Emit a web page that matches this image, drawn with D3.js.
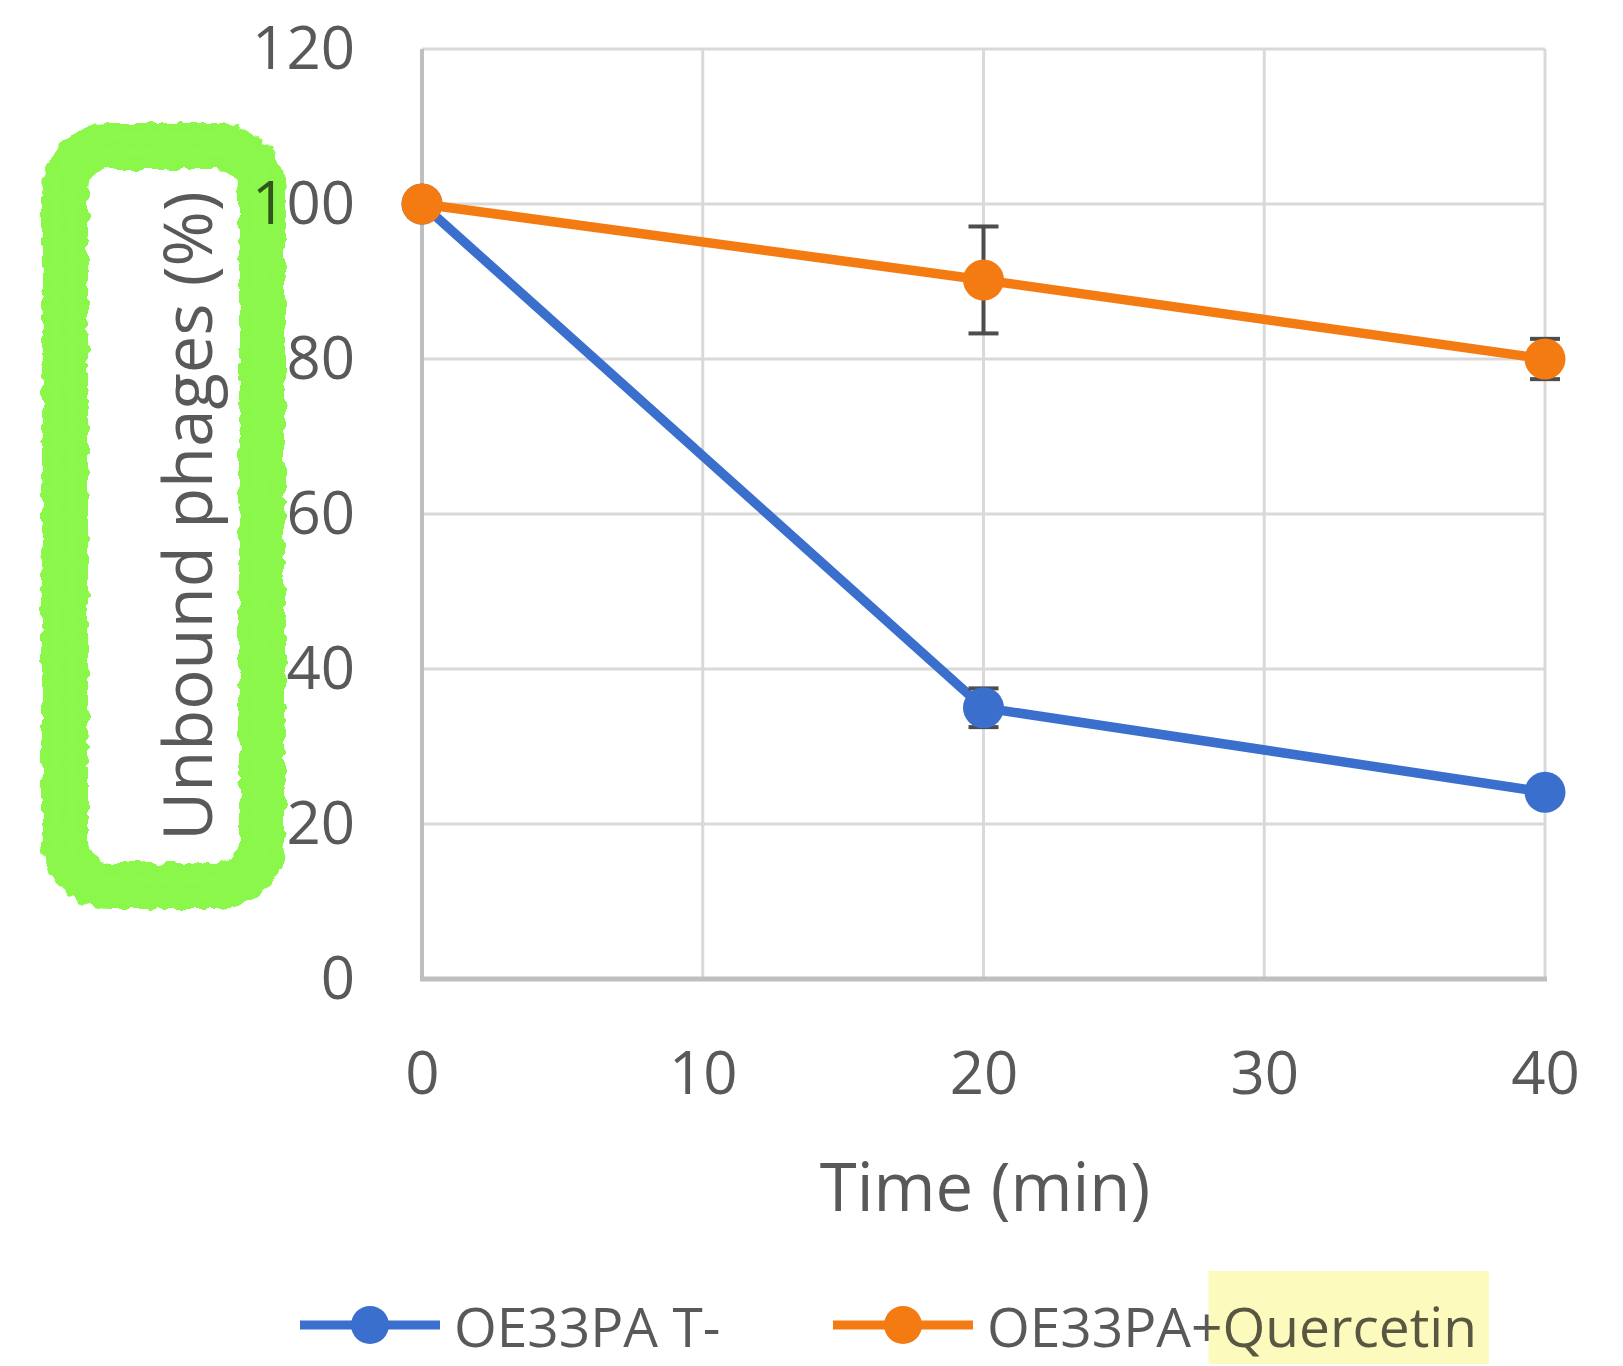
<!DOCTYPE html>
<html>
<head>
<meta charset="utf-8">
<script src="https://cdn.jsdelivr.net/npm/d3@7"></script>
<style>
  body { margin: 0; background: #ffffff; }
  svg text { font-family: "Open Sans", "Noto Sans", sans-serif; fill: #595959; }
</style>
</head>
<body>
<div id="chart"></div>
<script>
// chart data
var times = [0, 20, 40];
var xTicks = [0, 10, 20, 30, 40];
var yTicks = [0, 20, 40, 60, 80, 100, 120];
var seriesNames = ["OE33PA T-", "OE33PA+Quercetin"];
var seriesColors = ["#3b6fce", "#f47a12"];
var controlVals = [100, 35.0, 24.1];
var controlErr = [0, 2.5, 0];
var quercetinVals = [100, 90.2, 80.0];
var quercetinErr = [0, 6.9, 2.6];

var xTitle = "Time (min)";
var yTitle = "Unbound phages (%)";

var W = 1623, H = 1366;
var margin = {top: 49, right: 78, bottom: 387, left: 422},
    width = W - margin.left - margin.right,
    height = H - margin.top - margin.bottom;

var svg = d3.select("#chart").append("svg")
    .attr("width", W)
    .attr("height", H);

// rough edge for the hand-drawn marker box
var defs = svg.append("defs");
var rough = defs.append("filter").attr("id", "rough")
  .attr("x", "-20%").attr("y", "-10%").attr("width", "140%").attr("height", "120%");
rough.append("feTurbulence")
  .attr("type", "fractalNoise")
  .attr("baseFrequency", "0.09")
  .attr("numOctaves", 2)
  .attr("seed", 4)
  .attr("result", "noise");
rough.append("feDisplacementMap")
  .attr("in", "SourceGraphic")
  .attr("in2", "noise")
  .attr("scale", 10)
  .attr("xChannelSelector", "R")
  .attr("yChannelSelector", "G");

var g = svg.append("g")
    .attr("transform", "translate(" + margin.left + "," + margin.top + ")");

var xScale = d3.scaleLinear().domain([0, 40]).range([0, width]);
var yScale = d3.scaleLinear().domain([0, 120]).range([height, 0]);

// grid
g.append("g").selectAll("line")
  .data(yTicks.slice(1)).enter()
  .append("line")
  .attr("x1", 0).attr("x2", width)
  .attr("y1", function(d) { return yScale(d); })
  .attr("y2", function(d) { return yScale(d); })
  .style("stroke", "#d9d9d9")
  .style("stroke-width", 3);

g.append("g").selectAll("line")
  .data(xTicks.slice(1)).enter()
  .append("line")
  .attr("x1", function(d) { return xScale(d); })
  .attr("x2", function(d) { return xScale(d); })
  .attr("y1", 0).attr("y2", height)
  .style("stroke", "#d9d9d9")
  .style("stroke-width", 3);

// left and bottom axis lines
g.append("line")
  .attr("x1", 0).attr("x2", 0).attr("y1", 0).attr("y2", height)
  .style("stroke", "#bfbfbf").style("stroke-width", 4);
g.append("line")
  .attr("x1", -2).attr("x2", width + 2).attr("y1", height).attr("y2", height)
  .style("stroke", "#bfbfbf").style("stroke-width", 5);

// tick labels
var yAxis = d3.axisLeft(yScale).tickValues(yTicks).tickSize(0).tickPadding(67);
g.append("g").call(yAxis)
  .call(function(a) { a.select(".domain").remove(); })
  .selectAll("text")
  .style("font-size", "60px")
  .attr("fill", "#595959");

var xAxis = d3.axisBottom(xScale).tickValues(xTicks).tickSize(0).tickPadding(92);
g.append("g")
  .attr("transform", "translate(0," + height + ")")
  .call(xAxis)
  .call(function(a) { a.select(".domain").remove(); })
  .selectAll("text")
  .style("font-size", "60px")
  .attr("dy", "0")
  .attr("dominant-baseline", "central")
  .attr("fill", "#595959");

// axis titles
svg.append("text")
  .attr("x", 985).attr("y", 1185)
  .attr("text-anchor", "middle")
  .attr("dominant-baseline", "central")
  .style("font-size", "67px")
  .text(xTitle);

svg.append("text")
  .attr("transform", "translate(186,516) rotate(-90)")
  .attr("text-anchor", "middle")
  .attr("dominant-baseline", "central")
  .style("font-size", "67px")
  .text(yTitle);

// series
var series = [
  {name: seriesNames[0], color: seriesColors[0], vals: controlVals, err: controlErr},
  {name: seriesNames[1], color: seriesColors[1], vals: quercetinVals, err: quercetinErr}
];

var line = d3.line()
  .x(function(d) { return xScale(d.x); })
  .y(function(d) { return yScale(d.y); });

series.forEach(function(s) {
  var pts = times.map(function(t, i) { return {x: t, y: s.vals[i], e: s.err[i]}; });

  g.append("path")
    .attr("d", line(pts))
    .style("fill", "none")
    .style("stroke", s.color)
    .style("stroke-width", 9.5)
    .style("stroke-linejoin", "round");

  // error bars sit behind the markers
  var eb = g.append("g").selectAll("g")
    .data(pts.filter(function(d) { return d.e > 0; })).enter()
    .append("g")
    .style("stroke", "#4d4d4d")
    .style("stroke-width", 4);
  eb.append("line")
    .attr("x1", function(d) { return xScale(d.x); })
    .attr("x2", function(d) { return xScale(d.x); })
    .attr("y1", function(d) { return yScale(d.y + d.e); })
    .attr("y2", function(d) { return yScale(d.y - d.e); });
  eb.append("line")
    .attr("x1", function(d) { return xScale(d.x) - 15; })
    .attr("x2", function(d) { return xScale(d.x) + 15; })
    .attr("y1", function(d) { return yScale(d.y + d.e); })
    .attr("y2", function(d) { return yScale(d.y + d.e); });
  eb.append("line")
    .attr("x1", function(d) { return xScale(d.x) - 15; })
    .attr("x2", function(d) { return xScale(d.x) + 15; })
    .attr("y1", function(d) { return yScale(d.y - d.e); })
    .attr("y2", function(d) { return yScale(d.y - d.e); });

  g.append("g").selectAll("circle")
    .data(pts).enter()
    .append("circle")
    .attr("cx", function(d) { return xScale(d.x); })
    .attr("cy", function(d) { return yScale(d.y); })
    .attr("r", 20.5)
    .style("fill", s.color);
});

// legend
var legendX = [300, 833];
var legendY = 1325;
series.forEach(function(s, i) {
  var lg = svg.append("g").attr("transform", "translate(" + legendX[i] + "," + legendY + ")");
  lg.append("line")
    .attr("x1", 0).attr("x2", 140).attr("y1", 0).attr("y2", 0)
    .style("stroke", s.color).style("stroke-width", 9);
  lg.append("circle").attr("cx", 70).attr("cy", 0).attr("r", 19).style("fill", s.color);
  var t = lg.append("text")
    .attr("x", 154).attr("y", 0)
    .attr("dominant-baseline", "central")
    .style("font-size", "55px");
  if (i == 1) {
    t.append("tspan").text("OE33PA+");
    var q = t.append("tspan").text("Quercetin");
    // yellow marker highlight over "Quercetin"
    var full = t.node().getComputedTextLength();
    var qlen = q.node().getComputedTextLength();
    var start = 154 + full - qlen;
    lg.append("rect")
      .attr("x", start - 14).attr("y", -54)
      .attr("width", qlen + 26).attr("height", 93)
      .style("fill", "#fbf9a6")
      .style("opacity", 0.75)
      .style("mix-blend-mode", "multiply");
  } else {
    t.text(s.name);
  }
});

// green hand-drawn box round the y title
var box = svg.append("g")
  .style("mix-blend-mode", "multiply")
  .attr("filter", "url(#rough)");
var roughPaths = [
  {x: 65, y: 146, w: 197, h: 740, r: 45, sw: 46, op: 1},
  {x: 57, y: 137, w: 209, h: 757, r: 55, sw: 9, op: 0.9},
  {x: 73, y: 153, w: 184, h: 726, r: 36, sw: 7, op: 0.9}
];
box.selectAll("rect")
  .data(roughPaths).enter()
  .append("rect")
  .attr("x", function(d) { return d.x; })
  .attr("y", function(d) { return d.y; })
  .attr("width", function(d) { return d.w; })
  .attr("height", function(d) { return d.h; })
  .attr("rx", function(d) { return d.r; })
  .style("fill", "none")
  .style("stroke", "#8cf74c")
  .style("stroke-width", function(d) { return d.sw; })
  .style("opacity", function(d) { return d.op; });
</script>
</body>
</html>
